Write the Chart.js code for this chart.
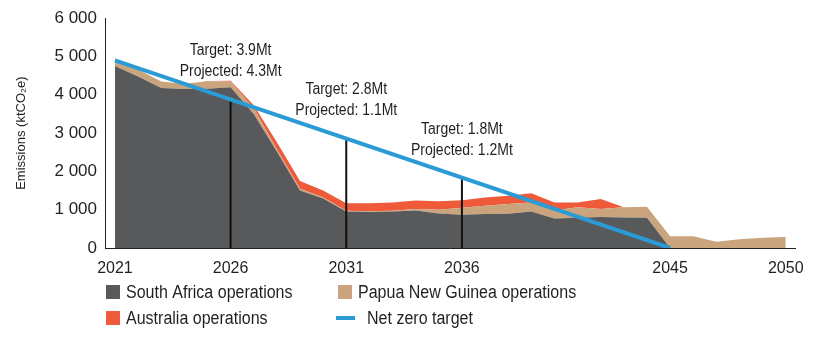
<!DOCTYPE html>
<html>
<head>
<meta charset="utf-8">
<script src="https://cdn.jsdelivr.net/npm/chart.js@4.4.1/dist/chart.umd.min.js"></script>
<style>
  html, body { margin: 0; padding: 0; background: #ffffff; }
  #wrap { width: 823px; height: 350px; }
</style>
</head>
<body>
<div id="wrap"><canvas id="chart" width="823" height="350"></canvas></div>
<script>
// ---- data (ktCO2e) ----
const years = [2021, 2022, 2023, 2024, 2025, 2026, 2027, 2028, 2029, 2030,
               2031, 2032, 2033, 2034, 2035, 2036, 2037, 2038, 2039, 2040,
               2041, 2042, 2043, 2044, 2045, 2046, 2047, 2048, 2049, 2050];
const southAfrica = [4750, 4480, 4180, 4150, 4160, 4200, 3500, 2520, 1500, 1290,
                     950, 940, 950, 980, 900, 870, 890, 895, 955, 770,
                     790, 810, 795, 790, 0, 0, 0, 0, 0, 0];
const papuaNewGuinea = [180, 180, 170, 130, 200, 140, 150, 60, 50, 30,
                        20, 20, 20, 40, 100, 180, 215, 255, 235, 210,
                        275, 210, 270, 290, 310, 310, 160, 230, 270, 290];
const australia = [0, 0, 0, 0, 0, 30, 80, 180, 200, 180,
                   200, 210, 220, 220, 220, 200, 215, 215, 240, 210,
                   125, 260, 0, 0, 0, 0, 0, 0, 0, 0];
const netZeroYears = [2021, 2045];
const netZeroValues = [4900, 0];
const targetYears = [2026, 2031, 2036];
const targetValues = [3880, 2860, 1840];
const targetLabels = ['Target: 3.9Mt', 'Target: 2.8Mt', 'Target: 1.8Mt'];
const projectedLabels = ['Projected: 4.3Mt', 'Projected: 1.1Mt', 'Projected: 1.2Mt'];
const xTickYears = [2021, 2026, 2031, 2036, 2045, 2050];
const seriesLabels = ['South Africa operations', 'Papua New Guinea operations', 'Australia operations', 'Net zero target'];

const FONT = '"Liberation Sans", Arial, sans-serif';
const TEXT = '#231f20';
const GREY = '#58595b';
const TAN = '#c9a47c';
const RED = '#ee5a3a';
const BLUE = '#2b9bd6';

Chart.defaults.font.family = FONT;
Chart.defaults.color = TEXT;

function pts(xs, ys) {
    return xs.map((x, i) => ({ x: x, y: ys[i] }));
}

// draw text squeezed horizontally, the source uses a condensed face
function narrowText(ctx, text, x, y, sx) {
    ctx.save();
    ctx.translate(x, y);
    ctx.scale(sx, 1);
    ctx.fillText(text, 0, 0);
    ctx.restore();
}

var datasets = [
    { label: seriesLabels[0], data: pts(years, southAfrica), backgroundColor: GREY, borderWidth: 0, fill: 'origin', stack: 'ops', order: 3 },
    { label: seriesLabels[1], data: pts(years, papuaNewGuinea), backgroundColor: TAN, borderWidth: 0, fill: '-1', stack: 'ops', order: 3 },
    { label: seriesLabels[2], data: pts(years, australia), backgroundColor: RED, borderWidth: 0, fill: '-1', stack: 'ops', order: 3 },
    { label: seriesLabels[3], data: pts(netZeroYears, netZeroValues), borderColor: BLUE, borderWidth: 4, fill: false, stack: 'nz', order: 0 }
];
targetYears.forEach((yr, i) => {
    datasets.push({
        label: 'target' + i,
        data: [{ x: yr, y: 0 }, { x: yr, y: targetValues[i] }],
        borderColor: '#111111', borderWidth: 2, fill: false, stack: 'v' + i, order: 1
    });
});

// target / projected notes above each vertical line
const notesPlugin = {
    id: 'notes',
    afterDatasetsDraw(chart) {
        const ctx = chart.ctx;
        const xs = chart.scales.x, ys = chart.scales.y;
        ctx.save();
        ctx.font = '16px ' + FONT;
        ctx.fillStyle = TEXT;
        ctx.textAlign = 'center';
        ctx.textBaseline = 'alphabetic';
        targetYears.forEach((yr, i) => {
            const x = xs.getPixelForValue(yr);
            const yTop = ys.getPixelForValue(targetValues[i]);
            narrowText(ctx, targetLabels[i], x, yTop - 44, 0.875);
            narrowText(ctx, projectedLabels[i], x, yTop - 23, 0.875);
        });
        ctx.restore();
    }
};

// two-column legend under the chart
const legendPlugin = {
    id: 'gridLegend',
    afterDraw(chart) {
        const ctx = chart.ctx;
        const area = chart.chartArea;
        const colX = [area.left + 1, area.left + 233];
        const rowY = [area.bottom + 44, area.bottom + 70];
        ctx.save();
        ctx.font = '18px ' + FONT;
        ctx.textBaseline = 'middle';
        ctx.textAlign = 'left';
        for (var i = 0; i < 4; i++) {
            const ds = chart.data.datasets[i];
            const x = colX[(i === 1 || i === 3) ? 1 : 0];
            const y = rowY[i >= 2 ? 1 : 0];
            if (i === 3) {
                ctx.strokeStyle = ds.borderColor;
                ctx.lineWidth = 4;
                ctx.beginPath();
                ctx.moveTo(x - 2, y);
                ctx.lineTo(x + 17, y);
                ctx.stroke();
                ctx.fillStyle = TEXT;
                narrowText(ctx, ds.label, x + 29, y + 1, 0.89);
            } else {
                ctx.fillStyle = ds.backgroundColor;
                ctx.fillRect(x, y - 7, 14, 14);
                ctx.fillStyle = TEXT;
                narrowText(ctx, ds.label, x + 20, y + 1, 0.89);
            }
        }
        ctx.restore();
    }
};

new Chart(document.getElementById('chart'), {
    type: 'line',
    data: { datasets: datasets },
    plugins: [notesPlugin, legendPlugin],
    options: {
        responsive: false,
        animation: false,
        layout: { padding: { left: 14, right: 28, top: 15, bottom: 72 } },
        elements: {
            point: { radius: 0, hoverRadius: 0 },
            line: { tension: 0 }
        },
        plugins: {
            legend: { display: false },
            tooltip: { enabled: false }
        },
        scales: {
            x: {
                type: 'linear',
                min: 2020.57,
                max: 2050.4,
                grid: { display: false, drawTicks: false },
                border: { display: true, color: TEXT, width: 1 },
                ticks: {
                    font: { size: 16 },
                    color: TEXT,
                    padding: 11,
                    maxRotation: 0,
                    autoSkip: false,
                    callback: v => String(v)
                },
                afterBuildTicks: scale => {
                    scale.ticks = xTickYears.map(v => ({ value: v }));
                },
                afterFit: scale => { scale.height = 30; }
            },
            y: {
                type: 'linear',
                stacked: true,
                min: 0,
                max: 6000,
                grid: { display: false, drawTicks: false },
                border: { display: true, color: TEXT, width: 1 },
                ticks: {
                    stepSize: 1000,
                    font: { size: 17 },
                    color: TEXT,
                    padding: 8,
                    callback: v => v === 0 ? '0' : (v / 1000) + ' 000'
                },
                title: {
                    display: true,
                    text: 'Emissions (ktCO₂e)',
                    font: { size: 13 },
                    color: TEXT,
                    padding: { top: 0, bottom: 0 }
                },
                afterFit: scale => { scale.width = 91; }
            }
        }
    }
});
</script>
</body>
</html>
